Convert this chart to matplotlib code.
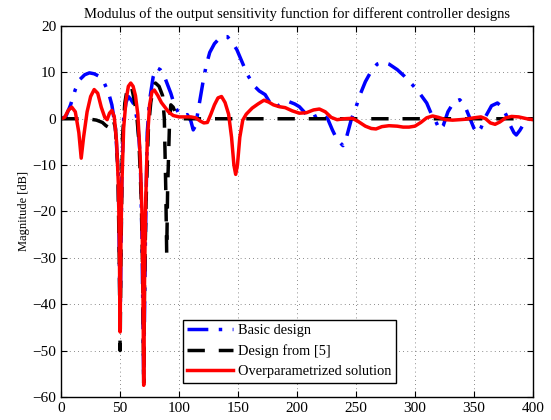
import matplotlib
matplotlib.use("Agg")
import matplotlib.pyplot as plt

plt.rcParams['font.family'] = ['Liberation Serif', 'DejaVu Serif']

# Basic design (blue, dash-dot)
basic_x = [0, 4, 8, 12, 16, 20, 24, 28, 32, 36, 40, 43, 46, 48.5, 50, 51.5, 53, 55, 57, 59,
           62, 65, 67, 68.5, 70, 71.5, 73, 75, 78, 81, 84, 87, 90, 93, 96, 100, 104, 107, 110,
           112, 114, 117, 120, 123, 126, 130, 134, 138, 141, 145, 149, 153, 158, 164, 168, 173,
           177, 180, 184, 188, 193, 198, 202, 206, 211, 216, 221, 226, 230, 234, 239, 242, 246,
           250, 254, 258, 263, 268, 273, 278, 285, 291, 298, 304, 310, 314, 317, 321, 324, 328,
           333, 338, 342, 346, 350, 353, 356, 360, 365, 370, 374, 378, 381, 384, 386, 389, 393,
           396, 400]
basic_y = [0, 0.5, 3, 6.3, 8.5, 9.5, 9.9, 9.7, 9.2, 8, 5.8, 3, -2, -12, -45, -12, 0, 3.5, 4.8, 4.2,
           3, -1, -8, -25, -57, -25, -3, 4, 9, 11, 10.6, 9.5, 7.5, 5.5, 3, 1, 0.6, 0.9, -0.5,
           -2.4, -1.5, 3, 7.5, 11.5, 14.3, 16.2, 17.3, 17.7, 17.7, 16.5, 14.9, 12.5, 9.5, 7, 6, 5.2,
           3.5, 2.4, 2.8, 3.5, 3.7, 3.2, 2.6, 1.5, 0, 0.6, 1.2, 0, -2.4, -4.5, -5.8, -4, -0.2,
           2.5, 5.5, 8, 10.3, 11.8, 12.2, 11.8, 10.6, 9.2, 7.3, 5.5, 3.4, 1, -0.2, -2.4, -1.5, 1.5,
           3.6, 4.1, 3, 0.5, -2, -3.1, -2, 0.5, 2.8, 3.4, 2.5, 0.5, -1.5, -3, -3.5, -2.5, -0.8,
           -0.2, 0]

# Design from [5] (black, dashed)
ref_x = [0, 20, 25, 30, 35, 38, 40, 42, 44, 46, 48, 49.3, 50, 50.7, 52, 54, 56, 58, 60, 62,
         64, 66, 68, 69.3, 70, 70.7, 72, 74, 76, 78, 80, 83, 86, 87.5, 88.7, 89.5, 90.3, 92, 93,
         95, 98, 100, 400]
ref_y = [0, 0, -0.1, -0.3, -0.8, -1.5, -1.8, -1.2, 0, -2, -10, -30, -50, -30, -4, 3.4, 6.5, 7.3,
         6.5, 4, 1, -5, -18, -35, -57, -35, -18, -2, 3.5, 6.5, 7.7, 7, 5, 0, -15, -29, -15, 0, 3,
         2.5, 0.5, 0, 0]

# Overparametrized solution (red, solid)
over_x = [0, 3, 6, 9, 12, 15, 17, 19, 22, 25, 28, 31, 34, 37, 39, 41, 43, 45, 47, 48.5, 49.3,
          50, 50.7, 51.5, 53, 55, 57, 59, 61, 63, 65, 67, 68.5, 69.3, 70, 70.7, 71.5, 73, 75, 77,
          79, 82, 85, 88, 91, 95, 100, 105, 110, 114, 118, 121, 124, 127, 130, 133, 136, 139,
          142, 144.5, 146.5, 148, 149.5, 151.5, 154, 157, 162, 167, 172, 176, 180, 185, 190,
          196, 202, 208, 214, 219, 224, 229, 234, 240, 247, 252, 258, 263, 267, 272, 278, 285,
          290, 295, 300, 305, 310, 315, 320, 326, 332, 338, 343, 350, 356, 360, 364, 368, 372,
          377, 382, 388, 395, 400]
over_y = [0, 0.3, 1.8, 2.5, 1.5, -3, -8.5, -4, 1.5, 4.8, 6.3, 5.5, 2.5, 0.3, -0.2, 1.2, 1.8,
          0.5, -5, -14, -26, -46, -26, -14, -2, 4, 7, 7.7, 7, 5, 1, -8, -20, -35, -57.5, -35,
          -20, -5, 3, 5.8, 6.2, 5, 3.5, 2.5, 1.5, 0.7, 0.4, 0.4, 0.4, 0.2, -0.5, -0.9, -0.8, 1,
          3, 4.5, 4.8, 3.5, 1, -4, -10, -12, -10, -4, -0.3, 1, 2.3, 3.2, 4, 3.6, 3, 2.6, 2.4,
          1.7, 1.2, 1.3, 1.9, 2.1, 1.5, 0.3, -0.2, 0, 0.1, -0.6, -1.6, -2.1, -2.2, -1.7, -1.5,
          -1.6, -1.8, -1.8, -1.6, -0.8, 0.2, 0.6, 0.3, -0.2, -0.3, -0.2, -0.1, 0.2, 0.4, 0, -0.9,
          -1.2, -0.7, 0.2, 0.5, 0.4, 0, -0.2]

fig = plt.figure(figsize=(5.51, 4.2), dpi=100)
ax = fig.add_axes([0.111, 0.055, 0.856, 0.883])

ax.plot(basic_x, basic_y, color='#0000ff', lw=2.5, dashes=[6, 3, 1, 3],
        label='Basic design')
ax.plot(ref_x, ref_y, color='black', lw=2.5, dashes=[5, 4], label='Design from [5]')
ax.plot(over_x, over_y, color='#ff0000', lw=2.5, label='Overparametrized solution')

ax.set_xlim(0, 400)
ax.set_ylim(-60, 20)
ax.set_xticks(range(0, 401, 50))
ax.set_yticks(range(-60, 21, 10))
ax.grid(True, linestyle=(0, (1, 4)), color='#666666', linewidth=0.6)
ax.tick_params(direction='in', top=True, right=True, labelsize=11, length=4)
for s in ax.spines.values():
    s.set_linewidth(1.0)

ax.set_ylabel('Magnitude [dB]', fontsize=9, labelpad=2)
ax.set_title('Modulus of the output sensitivity function for different controller designs',
             fontsize=10.5, pad=6)

leg = ax.legend(loc='lower left', bbox_to_anchor=(0.258, 0.038),
                fontsize=10.4, fancybox=False, framealpha=1, edgecolor='black',
                handlelength=3.2, borderpad=0.3, labelspacing=0.5, handletextpad=0.35,
                borderaxespad=0)
leg.get_frame().set_linewidth(1.0)

fig.savefig('out.png', dpi=100)
